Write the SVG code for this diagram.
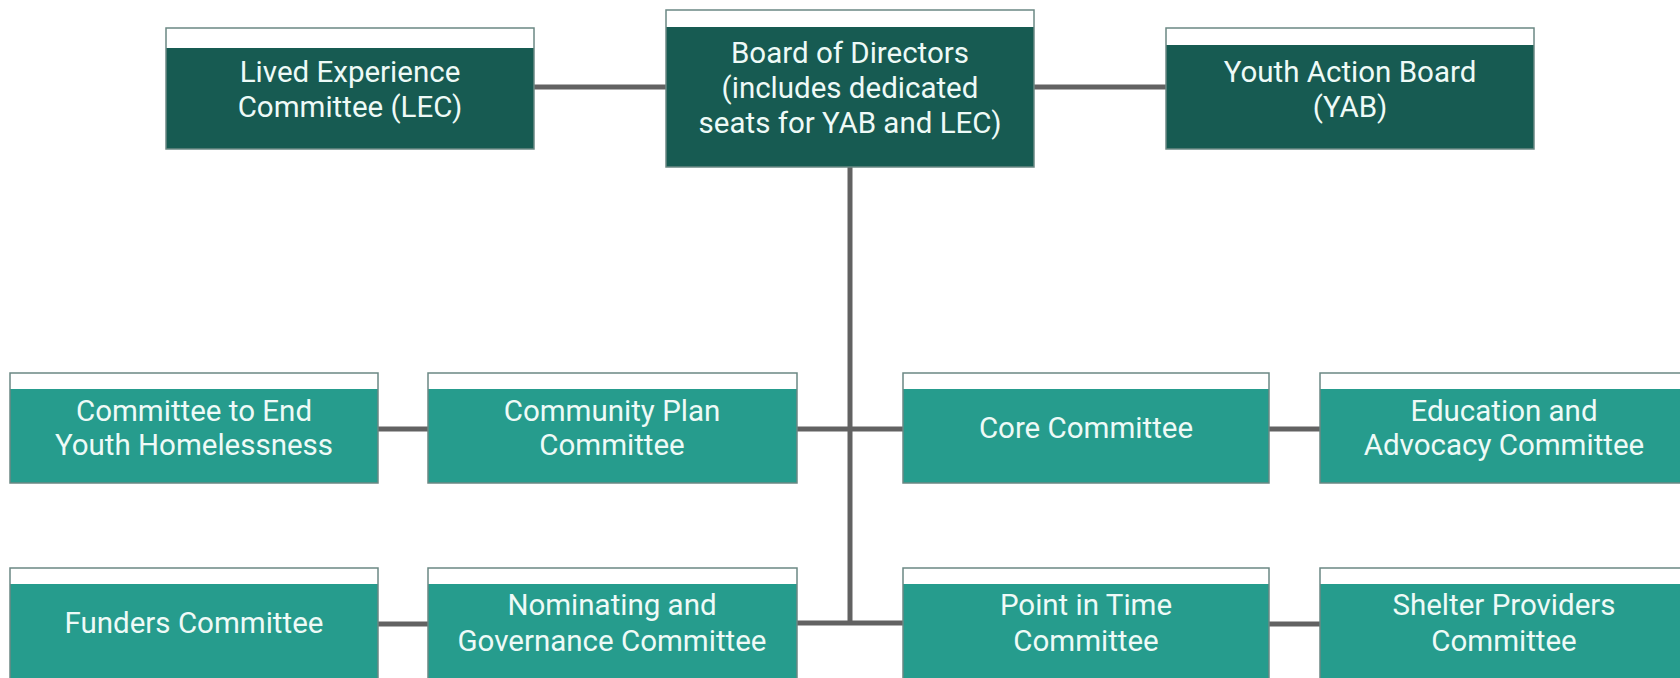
<svg xmlns="http://www.w3.org/2000/svg" width="1680" height="678" viewBox="0 0 1680 678">
  <style>
    .conn { stroke: #626262; stroke-width: 5; fill: none; }
    .cap { fill: #ffffff; }
    .frame { fill: none; stroke: #6b8884; stroke-width: 1.5; }
    .dark { fill: #175b52; }
    .teal { fill: #269c8d; }
    text { font-family: Roboto, "Liberation Sans", sans-serif; font-size: 29.5px; fill: #eefaf7; text-anchor: middle; }
  </style>
  <rect width="1680" height="678" fill="#ffffff"/>

  <!-- connectors -->
  <g id="connectors">
    <line class="conn" x1="534" y1="87" x2="666" y2="87"/>
    <line class="conn" x1="1034" y1="87" x2="1166" y2="87"/>
    <line class="conn" x1="850" y1="167" x2="850" y2="623"/>
    <line class="conn" x1="378" y1="429" x2="428" y2="429"/>
    <line class="conn" x1="797" y1="429" x2="903" y2="429"/>
    <line class="conn" x1="1269" y1="429" x2="1320" y2="429"/>
    <line class="conn" x1="378" y1="624" x2="428" y2="624"/>
    <line class="conn" x1="797" y1="623" x2="903" y2="623"/>
    <line class="conn" x1="1269" y1="624" x2="1320" y2="624"/>
  </g>

  <!-- top row -->
  <g id="lec">
    <rect class="dark" x="166" y="28" width="368" height="121"/>
    <rect class="cap" x="166" y="28" width="368" height="20"/>
    <rect class="frame" x="166" y="28" width="368" height="121"/>
    <text x="350" y="82">Lived Experience</text>
    <text x="350" y="117">Committee (LEC)</text>
  </g>
  <g id="board">
    <rect class="dark" x="666" y="10" width="368" height="157"/>
    <rect class="cap" x="666" y="10" width="368" height="17"/>
    <rect class="frame" x="666" y="10" width="368" height="157"/>
    <text x="850" y="63">Board of Directors</text>
    <text x="850" y="98">(includes dedicated</text>
    <text x="850" y="133">seats for YAB and LEC)</text>
  </g>
  <g id="yab">
    <rect class="dark" x="1166" y="28" width="368" height="121"/>
    <rect class="cap" x="1166" y="28" width="368" height="17"/>
    <rect class="frame" x="1166" y="28" width="368" height="121"/>
    <text x="1350" y="82">Youth Action Board</text>
    <text x="1350" y="117">(YAB)</text>
  </g>

  <!-- middle row -->
  <g id="ceyh">
    <rect class="teal" x="10" y="373" width="368" height="110"/>
    <rect class="cap" x="10" y="373" width="368" height="16"/>
    <rect class="frame" x="10" y="373" width="368" height="110"/>
    <text x="194" y="421">Committee to End</text>
    <text x="194" y="455">Youth Homelessness</text>
  </g>
  <g id="community-plan">
    <rect class="teal" x="428" y="373" width="369" height="110"/>
    <rect class="cap" x="428" y="373" width="369" height="16"/>
    <rect class="frame" x="428" y="373" width="369" height="110"/>
    <text x="612" y="421">Community Plan</text>
    <text x="612" y="455">Committee</text>
  </g>
  <g id="core">
    <rect class="teal" x="903" y="373" width="366" height="110"/>
    <rect class="cap" x="903" y="373" width="366" height="16"/>
    <rect class="frame" x="903" y="373" width="366" height="110"/>
    <text x="1086" y="438">Core Committee</text>
  </g>
  <g id="education">
    <rect class="teal" x="1320" y="373" width="368" height="110"/>
    <rect class="cap" x="1320" y="373" width="368" height="16"/>
    <rect class="frame" x="1320" y="373" width="368" height="110"/>
    <text x="1504" y="421">Education and</text>
    <text x="1504" y="455">Advocacy Committee</text>
  </g>

  <!-- bottom row -->
  <g id="funders">
    <rect class="teal" x="10" y="568" width="368" height="120"/>
    <rect class="cap" x="10" y="568" width="368" height="16"/>
    <rect class="frame" x="10" y="568" width="368" height="120"/>
    <text x="194" y="633">Funders Committee</text>
  </g>
  <g id="nominating">
    <rect class="teal" x="428" y="568" width="369" height="120"/>
    <rect class="cap" x="428" y="568" width="369" height="16"/>
    <rect class="frame" x="428" y="568" width="369" height="120"/>
    <text x="612" y="615">Nominating and</text>
    <text x="612" y="651">Governance Committee</text>
  </g>
  <g id="point-in-time">
    <rect class="teal" x="903" y="568" width="366" height="120"/>
    <rect class="cap" x="903" y="568" width="366" height="16"/>
    <rect class="frame" x="903" y="568" width="366" height="120"/>
    <text x="1086" y="615">Point in Time</text>
    <text x="1086" y="651">Committee</text>
  </g>
  <g id="shelter">
    <rect class="teal" x="1320" y="568" width="368" height="120"/>
    <rect class="cap" x="1320" y="568" width="368" height="16"/>
    <rect class="frame" x="1320" y="568" width="368" height="120"/>
    <text x="1504" y="615">Shelter Providers</text>
    <text x="1504" y="651">Committee</text>
  </g>
</svg>
